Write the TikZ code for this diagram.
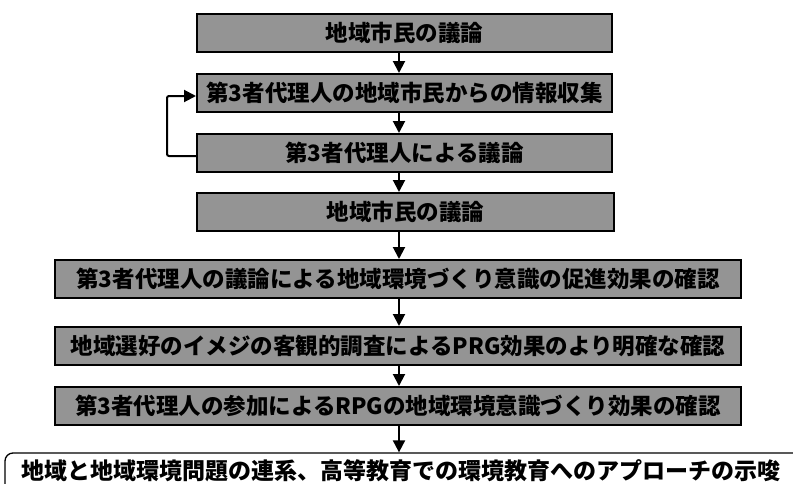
\documentclass[tikz,border=0pt]{standalone}
\usepackage{fontspec}
\newfontfamily\cjk{Noto Sans CJK JP}
\usetikzlibrary{arrows.meta}
\tikzset{
  graybox/.style={draw=black, line width=2pt, fill=black!42, minimum height=38pt, inner sep=0pt,
    font=\cjk\bfseries\fontsize{22.5}{24}\selectfont, text=black},
  widebox/.style={graybox, minimum width=686pt},
  narrowbox/.style={graybox, minimum width=415pt},
  endbox/.style={draw=black, line width=1.3pt, rounded corners=8pt, fill=white, inner sep=0pt,
    font=\cjk\bfseries\fontsize{23}{25}\selectfont, text=black},
  arr/.style={line width=2pt, -{Triangle[length=12pt,width=12pt]}}
}
\begin{document}
\begin{tikzpicture}[x=1pt,y=-1pt]
\useasboundingbox (0,0) rectangle (793,483);
\node[narrowbox] (b1) at (404.5,33) {地域市民の議論};
\node[narrowbox] (b2) at (404.5,93) {第3者代理人の地域市民からの情報収集};
\node[narrowbox] (b3) at (404.5,153) {第3者代理人による議論};
\node[narrowbox, minimum width=417pt] (b4) at (405.5,212) {地域市民の議論};
\node[widebox] (b5) at (398,279) {第3者代理人の議論による地域環境づくり意識の促進効果の確認};
\node[widebox] (b6) at (398,346) {地域選好のイメジの客観的調査によるPRG効果のより明確な確認};
\node[widebox] (b7) at (398,406) {第3者代理人の参加によるRPGの地域環境意識づくり効果の確認};
\node[endbox, minimum width=800pt, minimum height=60pt, text depth=0pt] (b8) at (405,483) {};
\node[font=\cjk\bfseries\fontsize{23}{25}\selectfont, anchor=base] (t8) at (401,479) {地域と地域環境問題の連系、高等教育での環境教育へのアプローチの示唆};
\coordinate (ax) at (399,0);
\coordinate (lx) at (167,0);
\draw[arr] (b1.south -| ax) -- (b2.north -| ax);
\draw[arr] (b2.south -| ax) -- (b3.north -| ax);
\draw[arr] (b3.south -| ax) -- (b4.north -| ax);
\draw[arr] (b4.south -| ax) -- (b5.north -| ax);
\draw[arr] (b5.south -| ax) -- (b6.north -| ax);
\draw[arr] (b6.south -| ax) -- (b7.north -| ax);
\draw[arr] (b7.south -| ax) -- (b8.north -| ax);
\draw[arr, rounded corners=2pt] ([yshift=-3pt]b3.west) -| ([yshift=-3pt]lx |- b2.west) -- ([yshift=-3pt]b2.west);
\end{tikzpicture}
\end{document}
